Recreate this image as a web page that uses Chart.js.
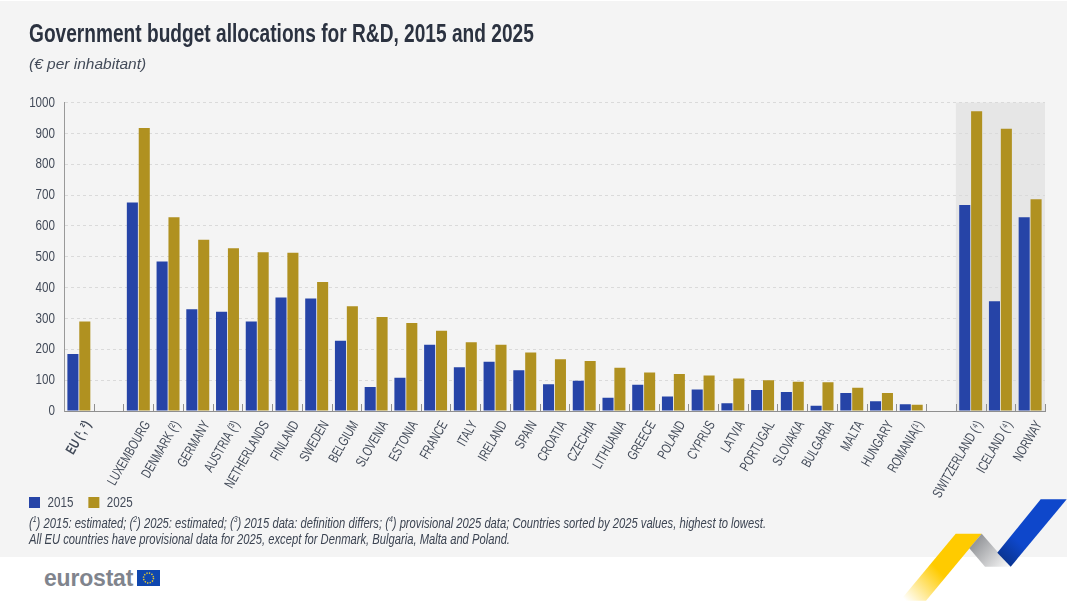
<!DOCTYPE html>
<html><head><meta charset="utf-8">
<script src="https://cdn.jsdelivr.net/npm/chart.js@4"></script>
<style>
html,body{margin:0;padding:0;background:#fff;width:1068px;height:603px;overflow:hidden}
#panel{position:absolute;left:0;top:1px;width:1067px;height:556px;background:#f4f4f4}
#wrap{position:absolute;left:0;top:0;width:1068px;height:603px}
#notes{position:absolute;left:29px;top:516px;font:italic 14.5px/15.5px "Liberation Sans",sans-serif;color:#3c4452;white-space:nowrap;transform:scaleX(.773);transform-origin:0 0}
#notes sup{font-size:9px;line-height:0}
#logo{position:absolute;left:44px;top:564px;font:bold 23px/28px "Liberation Sans",Arial,sans-serif;color:#80848d;letter-spacing:-.2px}
svg{position:absolute;left:0;top:0}
</style></head><body>
<div id="panel"></div>
<svg width="1068" height="603" viewBox="0 0 1068 603">
<defs>
<linearGradient id="gy" x1="965" y1="545" x2="905" y2="600" gradientUnits="userSpaceOnUse"><stop offset="0" stop-color="#ffcb00"/><stop offset=".45" stop-color="#ffcb00"/><stop offset="1" stop-color="#fff"/></linearGradient>
<linearGradient id="gg" x1="972" y1="540" x2="1005" y2="568" gradientUnits="userSpaceOnUse"><stop offset="0" stop-color="#8c8e92"/><stop offset="1" stop-color="#f4f4f4"/></linearGradient>
<linearGradient id="gb" x1="1035" y1="530" x2="1005" y2="562" gradientUnits="userSpaceOnUse"><stop offset="0" stop-color="#0e47cb"/><stop offset=".45" stop-color="#0e47cb"/><stop offset="1" stop-color="#0a3490"/></linearGradient>
</defs>
<polygon points="955.7,533.7 981.7,533.7 926,600.7 900,600.7" fill="url(#gy)"/>
<polygon points="981.7,533.7 1010.7,566.7 985,566.7 969.3,548.3" fill="url(#gg)"/>
<polygon points="1040.7,499.3 1066.7,499.3 1010.7,566.7 997.3,552.7" fill="url(#gb)"/>
<rect x="137" y="570" width="23" height="16" fill="#0f47af"/>
<circle cx="148.500" cy="578" r="5" fill="none" stroke="#e5c92e" stroke-width="1.500" stroke-dasharray="1.300 1.300"/>
</svg>
<div id="logo">eurostat</div>
<div id="wrap"><canvas id="c" width="1068" height="603"></canvas></div>
<div id="notes">(<sup>1</sup>) 2015: estimated; (<sup>2</sup>) 2025: estimated; (<sup>3</sup>) 2015 data: definition differs; (<sup>4</sup>) provisional 2025 data; Countries sorted by 2025 values, highest to lowest.<br>All EU countries have provisional data for 2025, except for Denmark, Bulgaria, Malta and Poland.</div>
<script>
const categories = ["EU (¹, ²)","","LUXEMBOURG","DENMARK (²)","GERMANY","AUSTRIA (³)","NETHERLANDS","FINLAND","SWEDEN","BELGIUM","SLOVENIA","ESTONIA","FRANCE","ITALY","IRELAND","SPAIN","CROATIA","CZECHIA","LITHUANIA","GREECE","POLAND","CYPRUS","LATVIA","PORTUGAL","SLOVAKIA","BULGARIA","MALTA","HUNGARY","ROMANIA(¹)"," ","SWITZERLAND (⁴)","ICELAND (⁴)","NORWAY"];
const values2015 = [185,null,676,485,330,322,290,368,365,228,78,108,215,142,160,132,87,98,43,85,47,70,25,68,62,17,58,32,22,null,668,356,628];
const values2025 = [290,null,918,628,555,528,515,513,418,340,305,285,260,223,215,190,168,162,140,125,120,115,105,100,95,93,75,58,20,null,972,915,687];
const yTicks = [0,100,200,300,400,500,600,700,800,900,1000];
const sans = '"Liberation Sans",sans-serif';
const ink = '#434b59';
const canvas = document.getElementById('c');
const ctx2d = canvas.getContext('2d');
// the reference face is condensed: squeeze upright text horizontally
const squeeze = f => /italic/.test(f) ? 1 : /25px/.test(f) ? .765 : /14px/.test(f) ? .72 : .775;
const rawFill = ctx2d.fillText, rawMeasure = ctx2d.measureText;
ctx2d.fillText = function(t,x,y,w){
  const k = squeeze(this.font);
  this.save(); this.translate(x,y); this.scale(k,1); rawFill.call(this,t,0,0); this.restore();
};
ctx2d.measureText = function(t){
  const m = rawMeasure.call(this,t);
  return {width:m.width*squeeze(this.font)};
};
const shade = {
  id:'shade',
  beforeDraw(ch){
    const x=ch.scales.x, a=ch.chartArea, half=(x.getPixelForValue(1)-x.getPixelForValue(0))/2;
    const l=x.getPixelForValue(30)-half, r=x.getPixelForValue(32)+half;
    ch.ctx.save(); ch.ctx.fillStyle='#e6e6e6'; ch.ctx.fillRect(l,a.top,r-l,a.bottom-a.top); ch.ctx.restore();
  }
};
const ticksUp = {
  id:'ticksUp',
  afterLayout(ch){ ch.legend.left = 14; },
  afterDatasetsDraw(ch){
    const x=ch.scales.x, a=ch.chartArea, half=(x.getPixelForValue(1)-x.getPixelForValue(0))/2, c=ch.ctx;
    c.save(); c.strokeStyle='#8f8f8f'; c.lineWidth=1; c.beginPath();
    categories.forEach((_,i)=>{const p=Math.round(x.getPixelForValue(i)+half)+.5; c.moveTo(p,a.bottom); c.lineTo(p,a.bottom-7);});
    c.stroke(); c.restore();
  }
};
new Chart(canvas,{
  type:'bar',
  data:{labels:categories,datasets:[
    {label:'2015',data:values2015,backgroundColor:'#2644a7',borderWidth:0,categoryPercentage:.8,barPercentage:.93},
    {label:'2025',data:values2025,backgroundColor:'#b09120',borderWidth:0,categoryPercentage:.8,barPercentage:.93}
  ]},
  plugins:[shade,ticksUp],
  options:{
    responsive:false,animation:false,
    layout:{padding:{top:20,left:29,right:23,bottom:83}},
    plugins:{
      tooltip:{enabled:false},
      title:{display:true,text:'Government budget allocations for R&D, 2015 and 2025',align:'start',color:'#2b3240',font:{family:sans,size:25,weight:'bold'},padding:{top:0,bottom:5}},
      subtitle:{display:true,text:'(€ per inhabitant)',align:'start',color:ink,font:{family:sans,size:15.5,style:'italic'},padding:{top:0,bottom:29}},
      legend:{position:'bottom',align:'start',labels:{boxWidth:11,boxHeight:11,color:ink,font:{family:sans,size:15},padding:15}}
    },
    scales:{
      x:{
        offset:true,
        grid:{display:false,drawTicks:false},
        border:{color:'#8f8f8f',width:1},
        afterFit(s){s.height=69;},
        afterUpdate(s){s._computeLabelArea=()=>undefined;},
        ticks:{autoSkip:false,minRotation:60,maxRotation:60,padding:7,labelOffset:9,color:ink,
          font:c=>({family:sans,size:14,weight:c.index===0?'bold':'normal'})}
      },
      y:{
        min:0,max:1000,
        afterFit(s){s.width=35;},
        afterBuildTicks(s){s.ticks=yTicks.map(v=>({value:v}));},
        grid:{color:'#dadada',drawTicks:false,lineWidth:1},
        border:{color:'#999',width:1,dash:[3,3]},
        ticks:{padding:9,color:ink,font:{family:sans,size:15},callback:v=>String(v)}
      }
    }
  }
});
</script>
</body></html>
